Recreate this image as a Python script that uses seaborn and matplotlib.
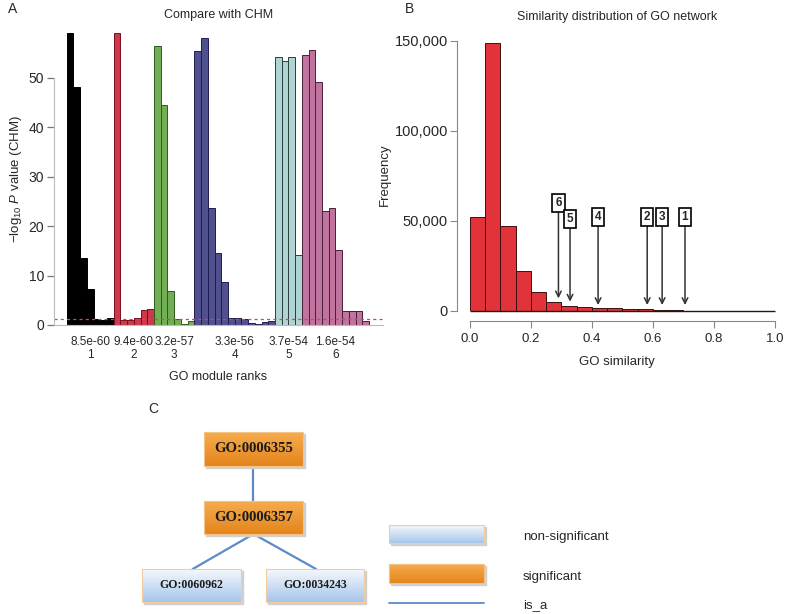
import numpy as np
import pandas as pd
import matplotlib
matplotlib.use("Agg")
import matplotlib.pyplot as plt
from matplotlib.colors import LinearSegmentedColormap
from matplotlib.patches import Rectangle
from matplotlib.ticker import FuncFormatter
import seaborn as sns

# ---- panel A: -log10 P (CHM) per GO module, grouped by rank
rank_labels = ["8.5e-60\n1", "9.4e-60\n2", "3.2e-57\n3",
               "3.3e-56\n4", "3.7e-54\n5", "1.6e-54\n6"]
rank1 = [59.07, 48.2, 13.6, 7.3, 1.3, 1.1, 1.4]
rank2 = [59.03, 1.1, 1.1, 1.4, 3.0, 3.2]
rank3 = [56.5, 44.5, 6.9, 1.2, 0.3, 0.8]
rank4 = [55.5, 58.1, 23.7, 14.5, 8.7, 1.4, 1.4, 1.3, 0.5, 0.3, 0.7, 0.9]
rank5 = [54.3, 53.5, 54.3, 14.1]
rank6 = [54.6, 55.6, 49.2, 23.1, 23.7, 15.2, 2.9, 2.9, 2.9, 0.8]
p_cutoff = 0.05
rank_colors = ["#000000", "#E4203A", "#6DBE45", "#45469A", "#A7DCDA", "#CB67A0"]
rank_edges = ["#000000", "#7A0F1C", "#2F5A1D", "#1D1D55", "#2A3F3E", "#4A1F38"]

# ---- panel B: GO similarity histogram (bin width 0.05)
sim_edges = [0.0, 0.05, 0.1, 0.15, 0.2, 0.25, 0.3, 0.35, 0.4, 0.45, 0.5,
             0.55, 0.6, 0.65, 0.7, 0.75, 0.8, 0.85, 0.9, 0.95, 1.0]
sim_counts = [52000, 148500, 47200, 22000, 10500, 5200, 2800, 2200, 1800, 1600,
              1200, 900, 700, 400, 200, 60, 30, 15, 8, 4]
mark_ranks = ["6", "5", "4", "2", "3", "1"]
mark_sims = [0.29, 0.328, 0.42, 0.581, 0.63, 0.705]

# ---- panel C: GO hierarchy
go_terms = ["GO:0006355", "GO:0006357", "GO:0060962", "GO:0034243"]
go_significant = [True, True, False, False]
go_parent = [None, "GO:0006355", "GO:0006357", "GO:0006357"]

W, H = 788, 614
sns.set_style("white")
plt.rcParams["font.family"] = ["Liberation Sans", "DejaVu Sans"]
plt.rcParams["mathtext.fontset"] = "custom"
plt.rcParams["mathtext.rm"] = "Liberation Sans"
plt.rcParams["mathtext.it"] = "Liberation Sans:italic"

fig = plt.figure(figsize=(W / 100, H / 100), dpi=100)


def px_axes(left, top, right, bottom):
    return fig.add_axes([left / W, 1 - bottom / H, (right - left) / W, (bottom - top) / H])


# ================= A
groups = [rank1, rank2, rank3, rank4, rank5, rank6]
rows = []
pos = 0
for g, vals in enumerate(groups):
    for v in vals:
        rows.append({"pos": pos, "value": v, "rank": str(g + 1)})
        pos += 1
dfa = pd.DataFrame(rows)

ax_a = px_axes(54, 33, 383, 325)
sns.barplot(data=dfa, x="pos", y="value", hue="rank", hue_order=["1", "2", "3", "4", "5", "6"],
            palette=rank_colors, dodge=False, width=1.0, native_scale=True,
            errorbar=None, legend=False, ax=ax_a)
pos_rank = dict(zip(dfa["pos"], dfa["rank"]))
for p in ax_a.patches:
    cx = int(round(p.get_x() + p.get_width() / 2))
    p.set_edgecolor(rank_edges[int(pos_rank[cx]) - 1])
    p.set_linewidth(0.7)
ax_a.axhline(-np.log10(p_cutoff), color="#E04050", lw=0.9, ls=(0, (2.5, 2.5)))
ax_a.set_xlim(-2.39, 46.57)
ax_a.set_ylim(0, 59.1)
centers = dfa.groupby("rank")["pos"].mean().values
ax_a.set_xticks(centers, rank_labels)
ax_a.set_yticks([0, 10, 20, 30, 40, 50])
ax_a.tick_params(axis="x", bottom=False, length=0, labelsize=8.5, pad=8)
ax_a.tick_params(axis="y", left=True, direction="out", length=5, width=0.9,
                 color="#777777", labelsize=10, pad=2)
for lab in ax_a.get_xticklabels():
    lab.set_linespacing(1.15)
ax_a.spines[["top", "right"]].set_visible(False)
ax_a.spines["left"].set_bounds(0, 50)
ax_a.spines["left"].set_color("#BBBBBB")
ax_a.spines["bottom"].set_color("#BBBBBB")
ax_a.set_xlabel("GO module ranks", fontsize=9, labelpad=7)
ax_a.set_ylabel(r"$-$log$_{10}$ $P$ value (CHM)", fontsize=9.5, labelpad=3)
ax_a.set_title("Compare with CHM", fontsize=9, pad=11)

# ================= B
ax_b = px_axes(457, 38, 777, 311)
centers_b = [(a + b) / 2 for a, b in zip(sim_edges[:-1], sim_edges[1:])]
sns.histplot(x=centers_b, weights=sim_counts, bins=sim_edges, color="#E2333B",
             edgecolor="#3A1010", linewidth=0.7, alpha=1, ax=ax_b)
ax_b.hlines(0, sim_edges[0], sim_edges[-1], color="#1A1A1A", lw=1.0, zorder=3, clip_on=False)
ax_b.set_xlim(-0.0426, 1.0066)
ax_b.set_ylim(0, 151500)
ax_b.set_xticks([0.0, 0.2, 0.4, 0.6, 0.8, 1.0])
ax_b.set_yticks([0, 50000, 100000, 150000])
ax_b.yaxis.set_major_formatter(FuncFormatter(lambda v, _: f"{int(v):,}"))
ax_b.xaxis.set_major_formatter(FuncFormatter(lambda v, _: f"{v:.1f}"))
sns.despine(ax=ax_b, offset={"bottom": 7.5, "left": 0})
ax_b.spines["left"].set_bounds(0, 150000)
ax_b.spines["bottom"].set_bounds(0, 1)
for s in ["left", "bottom"]:
    ax_b.spines[s].set_color("#888888")
    ax_b.spines[s].set_linewidth(0.8)
ax_b.tick_params(axis="both", left=True, bottom=True, length=5, width=0.8,
                 color="#888888", labelsize=10.5, pad=1.5)
ax_b.tick_params(axis="x", labelsize=9.5, pad=3)
ax_b.set_xlabel("GO similarity", fontsize=9.5, labelpad=8)
ax_b.set_ylabel("Frequency", fontsize=9.5, labelpad=3)
ax_b.set_title("Similarity distribution of GO network", fontsize=9, pad=13)

tip_y = [7000, 5200, 3300, 3300, 3300, 3300]
box_y = [59800, 51000, 52400, 52400, 52400, 52400]
for r, s, ty, by in zip(mark_ranks, mark_sims, tip_y, box_y):
    ax_b.annotate(r, xy=(s, ty), xytext=(s, by), ha="center", va="center",
                  fontsize=8.5, fontweight="bold",
                  bbox=dict(boxstyle="square,pad=0.25", fc="white", ec="black", lw=1.2),
                  arrowprops=dict(arrowstyle="->", color="#333333", lw=1.1,
                                  shrinkA=0, shrinkB=0, mutation_scale=10))

# ================= C
ax_c = fig.add_axes([0, 0, 1, (H - 380) / H])
ax_c.set_axis_off()
orange = LinearSegmentedColormap.from_list("sig", ["#F6AC4E", "#E4851C"])
blue = LinearSegmentedColormap.from_list("nonsig", ["#F5F8FC", "#A6C6EC"])
grad = np.linspace(0, 1, 64).reshape(-1, 1)
link_color = "#5B8BC8"


def draw_box(x0, y0, x1, y1, sig, label=None, size=9, weight="bold"):
    ax_c.add_patch(Rectangle((x0 + 2, y0 + 2), x1 - x0, y1 - y0, color="#D0D0D0", zorder=1))
    ax_c.imshow(grad, extent=(x0, x1, y1, y0), cmap=orange if sig else blue,
                aspect="auto", origin="upper", zorder=2)
    ax_c.add_patch(Rectangle((x0, y0), x1 - x0, y1 - y0, fill=False,
                             ec="#F2C286" if sig else "#F3CB9C", lw=0.8, zorder=3))
    if label:
        ax_c.text((x0 + x1) / 2, (y0 + y1) / 2, label, ha="center", va="center",
                  fontsize=size, fontweight=weight, family="Liberation Serif",
                  color="#1A1A1A", zorder=4)


layout = {"GO:0006355": (204, 432, 303, 466), "GO:0006357": (204, 501, 303, 534),
          "GO:0060962": (142, 569, 241, 602), "GO:0034243": (266, 569, 364, 602)}
for term, parent in zip(go_terms, go_parent):
    if parent is None:
        continue
    px0, py0, px1, py1 = layout[parent]
    cx0, cy0, cx1, cy1 = layout[term]
    child_x = (cx0 + cx1) / 2 if term == "GO:0006357" else (192.7 if cx0 < 200 else 316)
    ax_c.plot([(px0 + px1) / 2, child_x], [py1, cy0], color=link_color, lw=1.6, zorder=0)
for term, sig in zip(go_terms, go_significant):
    x0, y0, x1, y1 = layout[term]
    draw_box(x0, y0, x1, y1, sig, term, size=10.5 if sig else 8.5)

draw_box(389, 525, 484, 543, False)
draw_box(389, 564, 484, 583, True)
ax_c.plot([389, 484], [602.7, 602.7], color=link_color, lw=1.3)
ax_c.text(523, 537, "non-significant", fontsize=9.5, va="center")
ax_c.text(523, 577, "significant", fontsize=9.5, va="center")
ax_c.text(523, 605, "is_a", fontsize=9.5, va="center")
ax_c.set_xlim(0, W)
ax_c.set_ylim(H, 380)

fig.text(8 / W, 1 - 9 / H, "A", fontsize=10, va="center")
fig.text(405 / W, 1 - 9 / H, "B", fontsize=10, va="center")
fig.text(148 / W, 1 - 409 / H, "C", fontsize=10, va="center")

fig.savefig("out.png", dpi=100)
